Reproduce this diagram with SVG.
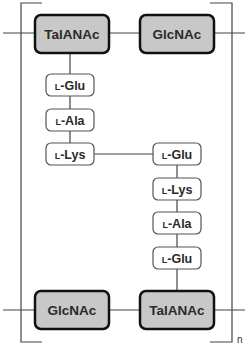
<svg xmlns="http://www.w3.org/2000/svg" width="250" height="349" viewBox="0 0 250 349">
<style>
.big{fill:#c8c8c8;stroke:#111;stroke-width:2.5}
.sm{fill:#fff;stroke:#555;stroke-width:1.2}
.ln{stroke:#444;stroke-width:1.2;fill:none}
.tb{font-family:"Liberation Sans",Arial,sans-serif;font-weight:bold;font-size:13.5px;fill:#2a2a2a;text-anchor:middle}
.ts{font-family:"Liberation Sans",Arial,sans-serif;font-weight:bold;font-size:12.5px;fill:#2a2a2a;text-anchor:middle}
.sc{font-size:9px}
</style>
<g id="connectors">
<path class="ln" d="M3 33H35M109 33H140M214 33H245"/>
<path class="ln" d="M3 310H35M109 310H140M214 310H245"/>
<path class="ln" d="M70 53V143"/>
<path class="ln" d="M94 154H153"/>
<path class="ln" d="M177 165V290"/>
<path class="ln" d="M42 3H21V342H42"/>
<path class="ln" d="M210 3H232V342H210"/>
</g>
<g id="TalANAc1"><rect class="big" x="35" y="15" width="74" height="38" rx="6"/><text class="tb" x="72" y="39">TalANAc</text></g>
<g id="GlcNAc1"><rect class="big" x="140" y="15" width="74" height="38" rx="6"/><text class="tb" x="177" y="39">GlcNAc</text></g>
<g id="LGlu1"><rect class="sm" x="46" y="74" width="48" height="22" rx="5"/><text class="ts" x="70" y="89.5"><tspan class="sc">L</tspan>-Glu</text></g>
<g id="LAla1"><rect class="sm" x="46" y="109" width="48" height="22" rx="5"/><text class="ts" x="70" y="124.5"><tspan class="sc">L</tspan>-Ala</text></g>
<g id="LLys1"><rect class="sm" x="46" y="143" width="48" height="22" rx="5"/><text class="ts" x="70" y="158.5"><tspan class="sc">L</tspan>-Lys</text></g>
<g id="LGlu2"><rect class="sm" x="153" y="143" width="48" height="22" rx="5"/><text class="ts" x="177" y="158.5"><tspan class="sc">L</tspan>-Glu</text></g>
<g id="LLys2"><rect class="sm" x="153" y="178" width="48" height="22" rx="5"/><text class="ts" x="177" y="193.5"><tspan class="sc">L</tspan>-Lys</text></g>
<g id="LAla2"><rect class="sm" x="153" y="212" width="48" height="22" rx="5"/><text class="ts" x="177" y="227.5"><tspan class="sc">L</tspan>-Ala</text></g>
<g id="LGlu3"><rect class="sm" x="153" y="247" width="48" height="22" rx="5"/><text class="ts" x="177" y="262.5"><tspan class="sc">L</tspan>-Glu</text></g>
<g id="GlcNAc2"><rect class="big" x="35" y="291" width="74" height="38" rx="6"/><text class="tb" x="72" y="315">GlcNAc</text></g>
<g id="TalANAc2"><rect class="big" x="140" y="291" width="74" height="38" rx="6"/><text class="tb" x="177" y="315">TalANAc</text></g>
<text x="237" y="343" font-family="Liberation Sans,Arial,sans-serif" font-size="10" fill="#333">n</text>
</svg>
